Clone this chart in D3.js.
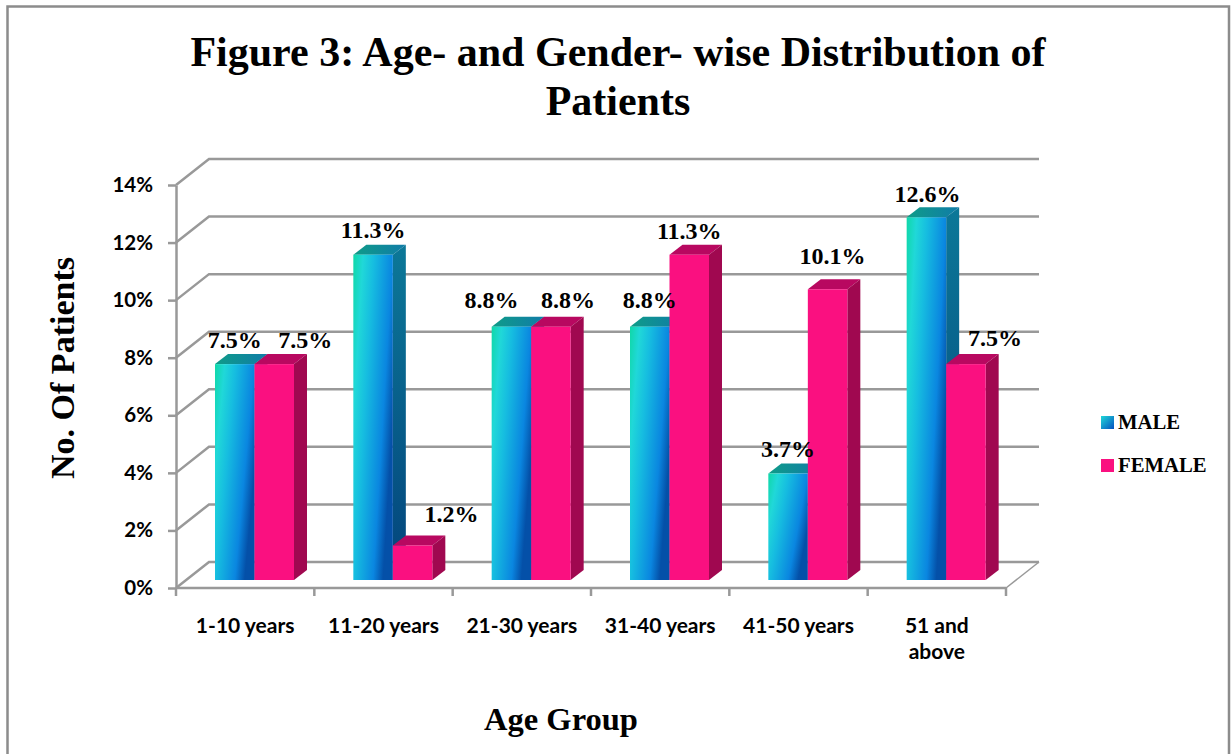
<!doctype html>
<html>
<head>
<meta charset="utf-8">
<title>Figure 3</title>
<script src="https://d3js.org/d3.v7.min.js"></script>
<style>
body { margin: 0; background: #fff; }
svg { display: block; }
.serif { font-family: "Liberation Serif", serif; font-weight: bold; fill: #000; }
.axis path { fill: none; stroke: #999; stroke-width: 2.5; }
.axis line { stroke: #999; stroke-width: 2.5; }
.axis text { font-family: Lato, sans-serif; font-weight: bold; fill: #000; }
</style>
</head>
<body>
<svg id="chart" width="1231" height="754"></svg>
<script>
var categories = ["1-10 years", "11-20 years", "21-30 years", "31-40 years", "41-50 years", "51 and above"];
var seriesNames = ["MALE", "FEMALE"];
var maleValues = [7.5, 11.3, 8.8, 8.8, 3.7, 12.6];
var femaleValues = [7.5, 1.2, 8.8, 11.3, 10.1, 7.5];
var yTicks = [0, 2, 4, 6, 8, 10, 12, 14];

// hand placed data labels, the original chart had them dragged around
var maleLabelNudge = [[0, -16], [0, -17], [-20, -19], [0, -19], [0, -16], [1, -15]];
var femaleLabelNudge = [[31, -16], [39, -23], [17, -19], [0, -16], [5, -25], [29, -18]];

var svg = d3.select("#chart");

var x = d3.scaleBand().domain(categories).range([176, 1006]);
var y = d3.scaleLinear().domain([0, 14]).range([588, 185]);

var wall = {dx: 33, dy: -26};
var barLift = -8, barPad = 39, barW = 39.5;
var side = {dx: 13, dy: -10};

// gradients
var defs = svg.append("defs");

function gradient(id, attrs, stops) {
    var lg = defs.append("linearGradient").attr("id", id);
    Object.keys(attrs).forEach(k => lg.attr(k, attrs[k]));
    stops.forEach(s => lg.append("stop").attr("offset", s[0]).attr("stop-color", s[1]));
}
gradient("maleFront", {x1: 0, y1: 0, x2: 1, y2: 0.5},
    [[0, "#0fd8a8"], [0.2, "#20d8d8"], [0.42, "#16bde0"], [0.8, "#0a86e0"], [1, "#0450a8"]]);
gradient("maleSide", {x1: 0, y1: 0, x2: 0, y2: 1},
    [[0, "#0c7898"], [1, "#03447c"]]);
gradient("maleTop", {x1: 0, y1: 0, x2: 1, y2: 0},
    [[0, "#0f9c88"], [1, "#107ca8"]]);
gradient("maleSwatch", {x1: 0, y1: 0, x2: 1, y2: 1},
    [[0, "#20d8d8"], [1, "#0450c0"]]);

// walls and gridlines
var grid = svg.append("g").attr("fill", "none").attr("stroke", "#999").attr("stroke-width", 2.5);

grid.selectAll(".back")
    .data(yTicks)
    .enter().append("path")
    .attr("class", "back")
    .attr("d", d => `M${x.range()[0]} ${y(d)} l${wall.dx} ${wall.dy} H${x.range()[1] + wall.dx}`);

grid.append("path")
    .attr("stroke-width", 1.5)
    .attr("d", `M${x.range()[1]} ${y(0)} l${wall.dx} ${wall.dy}`);

// frame, open at the bottom
svg.append("path")
    .attr("fill", "none")
    .attr("stroke", "#8c8c8c")
    .attr("stroke-width", 2.5)
    .attr("d", "M7.5 754 V6.5 H1229 V754");

// axes
svg.append("g")
    .attr("class", "axis")
    .attr("transform", `translate(${x.range()[0]},0)`)
    .call(d3.axisLeft(y).tickValues(yTicks).tickFormat(d => d + "%").tickSize(8).tickSizeOuter(0).tickPadding(15))
    .call(g => g.selectAll("text").attr("font-size", 20.5));

var xAxisG = svg.append("g")
    .attr("class", "axis")
    .attr("transform", `translate(0,${y(0)})`)
    .call(d3.axisBottom(x).tickSize(0).tickPadding(0));

xAxisG.selectAll(".tick line").remove();
xAxisG.select(".domain").attr("d", `M${x.range()[0]} 0 H${x.range()[1]}`);

xAxisG.selectAll(".edge")
    .data(categories.concat(["end"]))
    .enter().append("line")
    .attr("class", "edge")
    .attr("x1", (d, i) => x.range()[0] + i * x.bandwidth())
    .attr("x2", (d, i) => x.range()[0] + i * x.bandwidth())
    .attr("y1", 0)
    .attr("y2", 8);

xAxisG.selectAll(".tick text").each(function(d) {
    var t = d3.select(this).text(null)
        .attr("y", 0).attr("dy", null)
        .attr("font-size", 21);
    var lines = d == "51 and above" ? ["51 and", "above"] : [d];
    lines.forEach((s, i) => t.append("tspan").attr("x", 0).attr("y", 45 + i * 26).text(s));
});

// bars
function drawBar(g, v, name, left) {
    var top = y(v) + barLift, bottom = y(0) + barLift;
    var isMale = name == "MALE";
    g.append("path")
        .attr("fill", isMale ? "url(#maleTop)" : "#b80860")
        .attr("d", `M${left} ${top} l${side.dx} ${side.dy} h${barW} l${-side.dx} ${-side.dy} z`);
    g.append("path")
        .attr("fill", isMale ? "url(#maleSide)" : "#a00850")
        .attr("d", `M${left + barW} ${top} l${side.dx} ${side.dy} V${bottom + side.dy} l${-side.dx} ${-side.dy} z`);
    g.append("rect")
        .attr("x", left).attr("y", top)
        .attr("width", barW).attr("height", bottom - top)
        .attr("fill", isMale ? "url(#maleFront)" : "#fa1080");
}

var barsG = svg.append("g");
categories.forEach(function(c, i) {
    var left = x(c) + barPad;
    drawBar(barsG, maleValues[i], "MALE", left);
    drawBar(barsG, femaleValues[i], "FEMALE", left + barW);
});

// value labels go on top of all bars
var labelsG = svg.append("g").attr("class", "serif").attr("font-size", 24).attr("text-anchor", "middle");
categories.forEach(function(c, i) {
    var left = x(c) + barPad;
    labelsG.append("text")
        .attr("x", left + barW / 2 + maleLabelNudge[i][0])
        .attr("y", y(maleValues[i]) + barLift + maleLabelNudge[i][1])
        .text(maleValues[i].toFixed(1) + "%");
    labelsG.append("text")
        .attr("x", left + barW * 1.5 + femaleLabelNudge[i][0])
        .attr("y", y(femaleValues[i]) + barLift + femaleLabelNudge[i][1])
        .text(femaleValues[i].toFixed(1) + "%");
});

// titles
var title = svg.append("text").attr("class", "serif").attr("font-size", 42).attr("text-anchor", "middle");
title.append("tspan").attr("x", 618).attr("y", 66).text("Figure 3: Age- and Gender- wise Distribution of");
title.append("tspan").attr("x", 618).attr("y", 115).text("Patients");

svg.append("text")
    .attr("class", "serif")
    .attr("font-size", 34)
    .attr("text-anchor", "middle")
    .attr("transform", "translate(74,368) rotate(-90)")
    .text("No. Of Patients");

svg.append("text")
    .attr("class", "serif")
    .attr("font-size", 32.5)
    .attr("text-anchor", "middle")
    .attr("x", 561)
    .attr("y", 730)
    .text("Age Group");

// legend
var legend = svg.selectAll(".legend")
    .data(seriesNames)
    .enter().append("g")
    .attr("class", "legend")
    .attr("transform", (d, i) => `translate(1101,${416 + i * 43})`);

legend.append("rect")
    .attr("width", 13)
    .attr("height", 13)
    .attr("fill", d => d == "MALE" ? "url(#maleSwatch)" : "#fa1080");

legend.append("text")
    .attr("class", "serif")
    .attr("x", 17)
    .attr("y", 13)
    .attr("font-size", 20.7)
    .text(d => d);
</script>
</body>
</html>
